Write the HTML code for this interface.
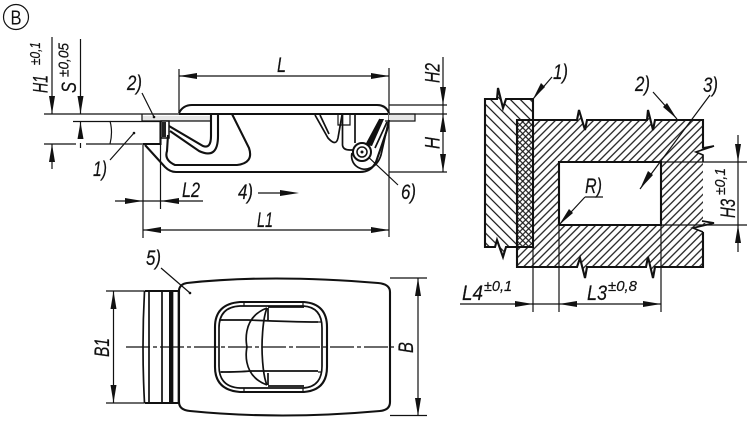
<!DOCTYPE html>
<html>
<head>
<meta charset="utf-8">
<style>
html,body{margin:0;padding:0;background:#fff;width:750px;height:421px;overflow:hidden}
svg{display:block}
text{font-family:"Liberation Sans",sans-serif;font-style:italic;font-size:21px;fill:#111;stroke:#111;stroke-width:.2}
.s{font-size:15px}
.n{fill:none;stroke:#111;stroke-width:1.2}
.t{fill:none;stroke:#111;stroke-width:2.1}
.m{fill:none;stroke:#111;stroke-width:1.7}
.a{fill:#111;stroke:none}
</style>
</head>
<body>
<svg width="750" height="421" viewBox="0 0 750 421" xmlns="http://www.w3.org/2000/svg">
<defs>
<pattern id="f" width="5.4" height="5.4" patternUnits="userSpaceOnUse" patternTransform="rotate(-45)"><line x1="0" y1="2.7" x2="5.4" y2="2.7" stroke="#111" stroke-width="1.2"/></pattern>
<pattern id="b" width="7" height="7" patternUnits="userSpaceOnUse" patternTransform="rotate(45)"><line x1="0" y1="3.5" x2="7" y2="3.5" stroke="#111" stroke-width="1.2"/></pattern>
<pattern id="c1" width="4.2" height="4.2" patternUnits="userSpaceOnUse" patternTransform="rotate(45)"><line x1="0" y1="2.1" x2="4.2" y2="2.1" stroke="#111" stroke-width="1.1"/></pattern>
<pattern id="c2" width="4.2" height="4.2" patternUnits="userSpaceOnUse" patternTransform="rotate(-45)"><line x1="0" y1="2.1" x2="4.2" y2="2.1" stroke="#111" stroke-width="1.1"/></pattern>
</defs>
<rect width="750" height="421" fill="#fff"/>

<!-- B marker -->
<circle cx="16" cy="17" r="12.5" class="n"/>
<text x="10.5" y="24.5" textLength="11" lengthAdjust="spacingAndGlyphs" style="font-style:normal;font-size:20px;stroke-width:0">B</text>

<!-- Top-left: dimension lines -->
<path class="n" d="M52 37V114M52 144V169M80.5 39V114M80.5 122V139M80.5 143V148M44 114H179M73 121.5H160M44 144H76M86 144H160M143 145V238M160.5 121V209M179 69V113M389 68V237M389 105H447M389 114H447M389 172H447M443 57V172M115 201H203M143 230H389M179 76H389M258 193H282"/>
<polygon class="a" points="52,114 49,96 55,96"/>
<polygon class="a" points="52,144 49,162 55,162"/>
<polygon class="a" points="80.5,114 77.5,96 83.5,96"/>
<polygon class="a" points="80.5,122 77.5,139 83.5,139"/>
<polygon class="a" points="143,201 125,198 125,204"/>
<polygon class="a" points="160.5,201 179,198 179,204"/>
<polygon class="a" points="143,230 161,227 161,233"/>
<polygon class="a" points="389,230 371,227 371,233"/>
<polygon class="a" points="179,76 197,73 197,79"/>
<polygon class="a" points="389,76 371,73 371,79"/>
<polygon class="a" points="443,105 440,87 446,87"/>
<polygon class="a" points="443,114 440,132 446,132"/>
<polygon class="a" points="443,172 440,154 446,154"/>
<polygon class="a" points="299,193 280,190 280,196"/>

<!-- Top-left: part -->
<path d="M142 116H210V121H142ZM389 115H415V120H389Z" fill="#e6e6e6"/>
<path class="n" d="M110 121Q113 132 110 144M142 114V121M142 121H210M389 114H415V121H385M142 93L154 117M110 160L134 133M363 152L398 185"/>
<circle cx="134" cy="133" r="1.3" class="a"/><circle cx="154" cy="117" r="1.3" class="a"/>
<path class="t" d="M160.5 121V144H143M179 113Q183 105 192 105H377Q386 105 389 113M179 114H388M145 145L165 167Q170 172 176 172H360Q371 172 376 162L387 130L389 120"/>
<rect x="161" y="121" width="8" height="17" fill="#fff" stroke="#111" stroke-width="1.5"/>
<rect x="162" y="122" width="4" height="15" fill="#222"/>
<path class="t" d="M169 126L203 146Q211 149 211 136V114M170 131L199 151Q218 160 218 136V114M168 135L167 151Q164 160 175 165H237Q254 163 249 148L232 114"/>
<path class="m" d="M315 115L328 138Q336 147 338 138L342 115M320 115L329 134"/>
<path class="n" d="M338 115V125H350V115"/>
<path class="m" d="M342.5 115V145Q343 150 350 150H355M355 115V143"/>
<path class="m" d="M352 153A13 13 0 0 0 370 168Q378 165 381 155L388 124"/>
<circle cx="362" cy="152" r="9" fill="#fff" stroke="#111" stroke-width="2"/>
<circle cx="362" cy="152" r="5" fill="none" stroke="#111" stroke-width="1.5"/>
<circle cx="362" cy="152" r="1.5" class="a"/>
<polygon class="a" points="366,145 380,119 384,119 372,146"/>
<path class="m" d="M375 148L387 122M366 145L380 119"/>

<!-- Top-left labels -->
<text transform="translate(47.5 93) rotate(-90)" textLength="18" lengthAdjust="spacingAndGlyphs">H1</text>
<text class="s" transform="translate(40 65) rotate(-90)" textLength="23" lengthAdjust="spacingAndGlyphs">±0,1</text>
<text transform="translate(76 93) rotate(-90)" textLength="11" lengthAdjust="spacingAndGlyphs">S</text>
<text class="s" transform="translate(68.5 77) rotate(-90)" textLength="34" lengthAdjust="spacingAndGlyphs">±0,05</text>
<text x="127" y="90" textLength="15" lengthAdjust="spacingAndGlyphs">2)</text>
<text x="93" y="176" textLength="14" lengthAdjust="spacingAndGlyphs">1)</text>
<text x="277" y="72" textLength="9" lengthAdjust="spacingAndGlyphs">L</text>
<text x="182" y="197" textLength="18" lengthAdjust="spacingAndGlyphs">L2</text>
<text x="238" y="199" textLength="15" lengthAdjust="spacingAndGlyphs">4)</text>
<text x="257" y="227" textLength="16" lengthAdjust="spacingAndGlyphs">L1</text>
<text x="401" y="199" textLength="15" lengthAdjust="spacingAndGlyphs">6)</text>
<text transform="translate(439.5 83) rotate(-90)" textLength="20" lengthAdjust="spacingAndGlyphs">H2</text>
<text transform="translate(439.5 149) rotate(-90)" textLength="12" lengthAdjust="spacingAndGlyphs">H</text>

<!-- Bottom view -->
<path class="n" d="M106 291H144M106 403H144M113.5 291V403M390 278H427M390 415.5H427M418 278V416M161 268L190 293"/>
<polygon class="a" points="113.5,291 110.5,309 116.5,309"/>
<polygon class="a" points="113.5,403 110.5,385 116.5,385"/>
<polygon class="a" points="418,278 415,296 421,296"/>
<polygon class="a" points="418,416 415,398 421,398"/>
<circle cx="190" cy="293" r="1.3" class="a"/>
<path class="t" d="M179 290Q180 284 187 283Q270 274 378 283Q390 284 390 292V402Q390 410 380 411Q280 420 190 411Q179 410 179 402Z"/>
<path class="t" d="M144.5 291H179M144.5 403H179"/>
<path class="m" d="M144.5 291Q141.5 347 144.5 403M149 291V403M162 291V403M172.5 291V403M178.5 291V403"/>
<path d="M169 291H172V403H169Z" class="a"/>
<path class="t" d="M240 302H304Q327 304 327 327V367Q327 390 304 392H240Q215 390 215 367V327Q215 304 240 302Z"/>
<path class="m" d="M240 306H303Q322 307 322 328V366Q322 387 303 388H240Q219 387 219 366V328Q219 307 240 306Z"/>
<path class="n" d="M244 302V306M303 302V306M244 388V392M303 388V392M219 320H223M318 322H322M219 372H223M318 372H322"/>
<path class="m" d="M220 320Q240 320 248 320Q290 322 318 322M221 372Q240 372 250 371H318M268 307H304M268 386H304M268 308V320M268 373V385"/>
<path class="m" d="M267 308C240 318 247 347 247 347C247 347 240 375 267 385M267 308C262 320 262 347 262 347C262 347 262 374 267 385"/>
<line x1="126" y1="347" x2="394" y2="347" stroke="#111" stroke-width="1.3" stroke-dasharray="24 3 4 3"/>
<text transform="translate(109 357) rotate(-90)" textLength="19" lengthAdjust="spacingAndGlyphs">B1</text>
<text transform="translate(413 353) rotate(-90)" textLength="11" lengthAdjust="spacingAndGlyphs">B</text>
<text x="146" y="265" textLength="15" lengthAdjust="spacingAndGlyphs">5)</text>

<!-- Right section -->
<path d="M485 99H497L498 88L503 108L506 99H533V247H506L503 257L497 240L495 247H485Z" fill="url(#b)"/>
<path d="M517 120H577L579 110L585 130L587 120H647L648 110L653 130L655 120H703V148L714 147L696 152L703 155V223L714 223L693 228L703 232V267H655L653 278L648 257L646 267H587L585 278L580 258L577 267H517Z" fill="url(#f)"/>
<rect x="517" y="120" width="16" height="127" fill="#fff"/>
<rect x="517" y="120" width="16" height="127" fill="url(#c1)"/>
<rect x="517" y="120" width="16" height="127" fill="url(#c2)"/>
<rect x="559" y="162" width="102" height="63" fill="#fff"/>
<path class="t" d="M533 99H506L503 108L498 88L497 99H485V247H495L497 240L503 257L506 247H533ZM533 99V247"/>
<path class="t" d="M517 247V267H577L580 258L585 278L587 267H646L648 257L653 278L655 267H703V232M703 148V120H655L653 130L648 110L647 120H587L585 130L579 110L577 120H517V247"/>
<path class="m" d="M703 148L714 146L696 152L703 155V162M702 221L714 223L693 228L703 232"/>
<path class="t" d="M559 225V162H661V225H559"/>
<path class="n" d="M661 162H747M661 225H747M738 135V252M559 225V312M661 225V312M533 247V312M460 304H661M585 197H603M585 197L559 225M552 77L533 99M653 92L677 119M710 95L640 189"/>
<polygon class="a" points="738,162 735,144 741,144"/>
<polygon class="a" points="738,225 735,243 741,243"/>
<polygon class="a" points="533,304 515,301 515,307"/>
<polygon class="a" points="559,304 577,301 577,307"/>
<polygon class="a" points="661,304 643,301 643,307"/>
<polygon class="a" points="533,99 541,83 545,87"/>
<polygon class="a" points="677,119 663,107 667,103"/>
<polygon class="a" points="640,189 648,171 653,175"/>
<polygon class="a" points="559,225 569,209 573,213"/>
<text x="553" y="79" textLength="15" lengthAdjust="spacingAndGlyphs">1)</text>
<text x="635" y="91" textLength="15" lengthAdjust="spacingAndGlyphs">2)</text>
<text x="703" y="92" textLength="15" lengthAdjust="spacingAndGlyphs">3)</text>
<text x="585" y="193" textLength="17" lengthAdjust="spacingAndGlyphs">R)</text>
<text x="462" y="300" textLength="21" lengthAdjust="spacingAndGlyphs">L4</text>
<text class="s" x="484" y="291" textLength="28" lengthAdjust="spacingAndGlyphs">±0,1</text>
<text x="587" y="300" textLength="20" lengthAdjust="spacingAndGlyphs">L3</text>
<text class="s" x="608" y="291" textLength="29" lengthAdjust="spacingAndGlyphs">±0,8</text>
<text transform="translate(735 218) rotate(-90)" textLength="19" lengthAdjust="spacingAndGlyphs">H3</text>
<text class="s" transform="translate(725 195) rotate(-90)" textLength="27" lengthAdjust="spacingAndGlyphs">±0,1</text>
</svg>
</body>
</html>
